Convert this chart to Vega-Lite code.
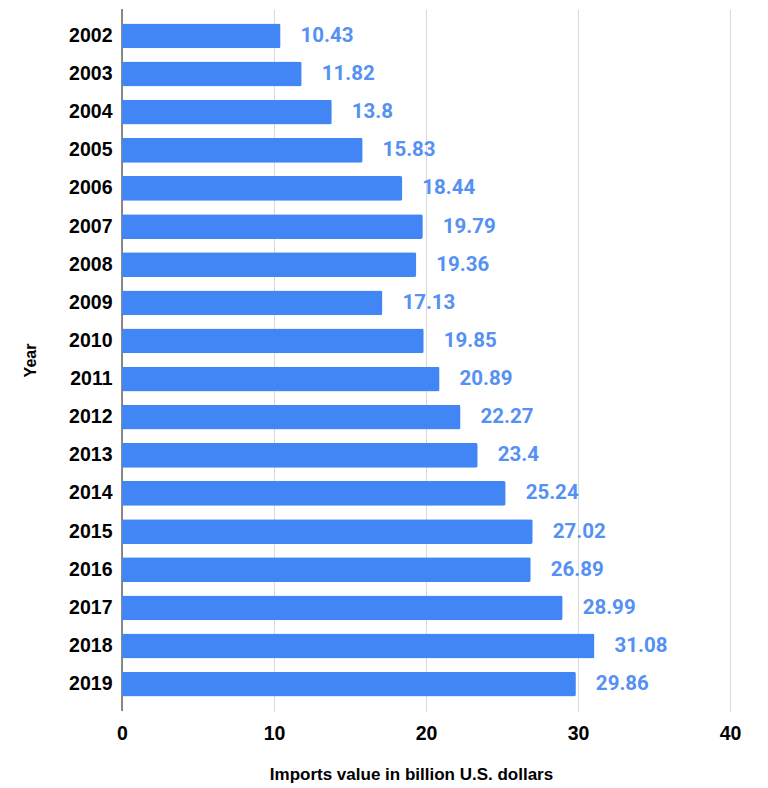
{
  "$schema": "https://vega.github.io/schema/vega-lite/v6.json",
  "width": 608,
  "height": 702,
  "autosize": "none",
  "padding": {"left": 122, "top": 9, "right": 38, "bottom": 77},
  "background": "white",
  "config": {"view": {"stroke": null}, "font": "Liberation Sans"},
  "data": {"values": [
    {"year": "2002", "value": 10.43},
    {"year": "2003", "value": 11.82},
    {"year": "2004", "value": 13.8},
    {"year": "2005", "value": 15.83},
    {"year": "2006", "value": 18.44},
    {"year": "2007", "value": 19.79},
    {"year": "2008", "value": 19.36},
    {"year": "2009", "value": 17.13},
    {"year": "2010", "value": 19.85},
    {"year": "2011", "value": 20.89},
    {"year": "2012", "value": 22.27},
    {"year": "2013", "value": 23.4},
    {"year": "2014", "value": 25.24},
    {"year": "2015", "value": 27.02},
    {"year": "2016", "value": 26.89},
    {"year": "2017", "value": 28.99},
    {"year": "2018", "value": 31.08},
    {"year": "2019", "value": 29.86}
  ]},
  "encoding": {
    "y": {"field": "year", "type": "nominal", "sort": null,
      "scale": {"paddingInner": 0.35, "paddingOuter": 0.38},
      "axis": {"title": "Year", "titleFont": "Liberation Sans", "titleFontSize": 16, "titleFontWeight": "bold", "titleColor": "#000", "titlePadding": 30,
        "labelFont": "Liberation Sans", "labelFontSize": 19.5, "labelFontWeight": "bold", "labelColor": "#000", "labelPadding": 10,
        "ticks": false, "domain": false}},
    "x": {"field": "value", "type": "quantitative",
      "scale": {"domain": [0, 40], "nice": false},
      "axis": {"title": "Imports value in billion U.S. dollars", "values": [0, 10, 20, 30, 40],
        "titleFont": "Liberation Sans", "titleFontSize": 17, "titleFontWeight": "bold", "titleColor": "#000", "titlePadding": 24, "titleX": 289,
        "labelFont": "Liberation Sans", "labelFontSize": 19.5, "labelFontWeight": "bold", "labelColor": "#000", "labelPadding": 13, "labelFlush": false,
        "ticks": false, "domain": false, "grid": true, "gridColor": "#d9d9d9"}}
  },
  "layer": [
    {"mark": {"type": "rule", "color": "#666", "strokeWidth": 1.5}, "data": {"values": [{"z": 0}]}, "encoding": {"x": {"field": "z", "type": "quantitative"}, "y": null}},
    {"mark": {"type": "bar", "color": "#4285F4", "cornerRadiusEnd": 2}},
    {"mark": {"type": "text", "align": "left", "baseline": "middle", "dx": 20, "font": "Roboto", "fontSize": 20.5, "fontWeight": "bold", "color": "#5590f3"},
      "encoding": {"text": {"field": "value", "type": "quantitative", "format": ".4~"}}}
  ]
}
